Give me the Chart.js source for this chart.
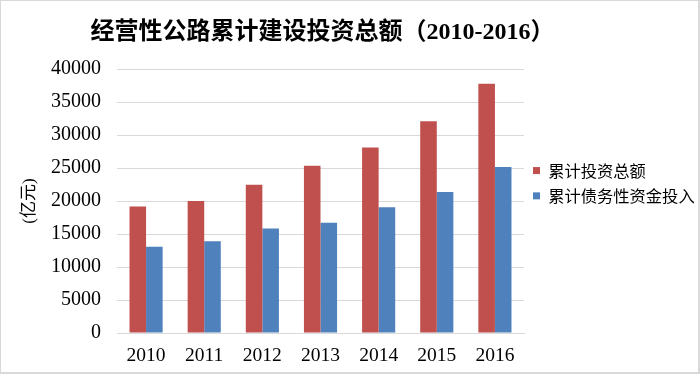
<!DOCTYPE html>
<html>
<head>
<meta charset="utf-8">
<script src="https://cdn.jsdelivr.net/npm/chart.js@4"></script>
<style>
  html, body { margin: 0; padding: 0; background: #fff; }
  #wrap { width: 700px; height: 374px; box-sizing: border-box; border: 1px solid #d9d9d9; border-right-width: 2px; border-bottom-width: 2px; }
</style>
</head>
<body>
<div id="wrap"><canvas id="chart" width="697" height="371"></canvas></div>
<script>
const years = ["2010", "2011", "2012", "2013", "2014", "2015", "2016"];
const totalInvest = [19150, 20000, 22450, 25350, 28100, 32100, 37750];
const debtInvest = [13050, 13900, 15850, 16700, 19050, 21350, 25150];
const seriesNames = ["累计投资总额", "累计债务性资金投入"];
const titleText = "经营性公路累计建设投资总额（2010-2016）";

const serif = "'Liberation Serif', 'Noto Sans CJK SC', serif";
const cjk = "'Noto Sans CJK SC', sans-serif";

// title centred over the plot area, like the Excel original
const titlePlugin = {
  id: "areaTitle",
  afterDraw(chart) {
    const ctx = chart.ctx;
    const area = chart.chartArea;
    ctx.save();
    ctx.font = "bold 24px " + serif;
    ctx.fillStyle = "#000";
    ctx.textAlign = "center";
    ctx.textBaseline = "middle";
    ctx.fillText(titleText, (area.left + area.right) / 2 + 2, 32);
    ctx.restore();
  },
};

new Chart(document.getElementById("chart"), {
  type: "bar",
  data: {
    labels: years,
    datasets: [
      { label: seriesNames[0], data: totalInvest, backgroundColor: "#C0504D" },
      { label: seriesNames[1], data: debtInvest, backgroundColor: "#4F81BD" },
    ],
  },
  options: {
    responsive: false,
    animation: false,
    layout: { padding: { top: 68, left: 18, right: 0, bottom: 4 } },
    datasets: { bar: { categoryPercentage: 0.57, barPercentage: 1 } },
    scales: {
      x: {
        grid: { display: false, drawTicks: false },
        border: { color: "#d9d9d9" },
        ticks: { color: "#000", font: { family: serif, size: 19.5 }, padding: 11 },
        afterFit: (scale) => { scale.height = 35; },
      },
      y: {
        min: 0,
        max: 40000,
        ticks: {
          stepSize: 5000,
          color: "#000",
          font: { family: serif, size: 20 },
          padding: 16,
          callback: (value) => String(value),
        },
        grid: { color: "#d9d9d9", drawTicks: false },
        border: { display: false },
        title: {
          display: true,
          text: "(亿元)",
          color: "#000",
          font: { family: serif, size: 17 },
          padding: { top: 0, bottom: 10 },
        },
        afterFit: (scale) => { scale.width = 98; },
      },
    },
    plugins: {
      title: { display: false },
      tooltip: { enabled: false },
      legend: {
        position: "right",
        align: "start",
        maxWidth: 174,
        title: { display: true, text: "", padding: { top: 70, bottom: 0 } },
        labels: {
          boxWidth: 7,
          boxHeight: 7,
          padding: 9,
          color: "#000",
          font: { family: cjk, size: 16.3 },
        },
      },
    },
  },
  plugins: [titlePlugin],
});
</script>
</body>
</html>
